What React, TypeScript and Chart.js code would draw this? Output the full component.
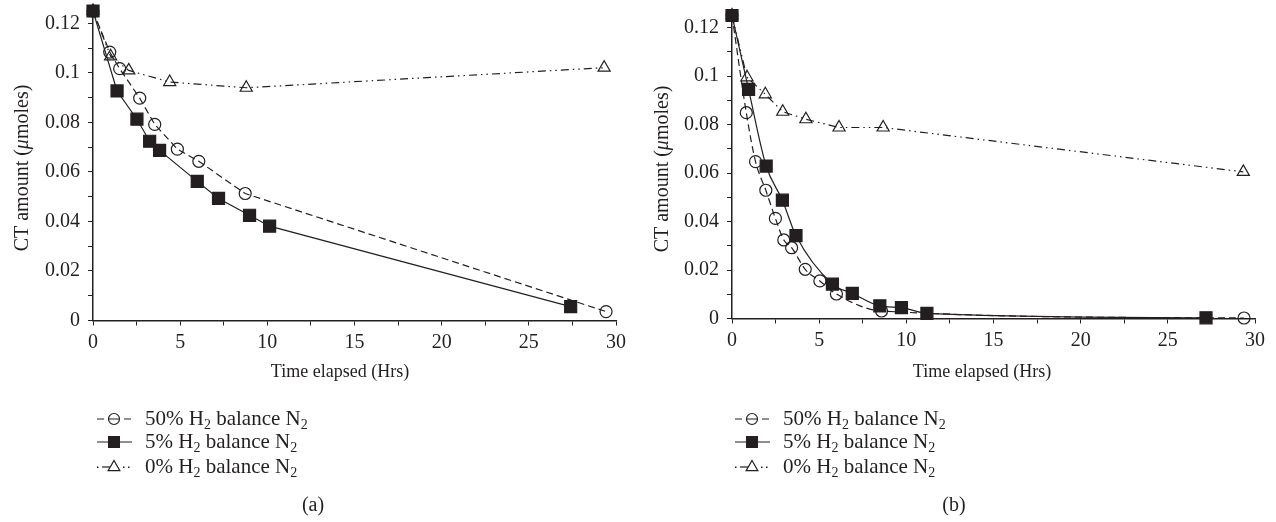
import React, { useEffect, useRef } from 'react';
import { Chart, registerables } from 'chart.js';

Chart.register(...registerables);

const FONT = '"Liberation Serif", "Times New Roman", serif';
const INK = '#231f20';

// ---------- Panel (a) ----------
const timeA50 = [0, 0.96, 1.53, 2.68, 3.54, 4.84, 6.07, 8.73, 29.43];
const ctA50 = [0.125, 0.1084, 0.1017, 0.0898, 0.0792, 0.0692, 0.0643, 0.0513, 0.0036];
const timeA5 = [0, 1.38, 2.52, 3.25, 3.82, 5.98, 7.2, 8.98, 10.13, 27.4];
const ctA5 = [0.125, 0.0927, 0.0813, 0.0724, 0.0687, 0.0562, 0.0493, 0.0425, 0.0381, 0.0056];
const timeA0 = [0, 1.01, 2.05, 4.4, 8.79, 29.32];
const ctA0 = [0.125, 0.1067, 0.101, 0.0963, 0.094, 0.1021];

// ---------- Panel (b) ----------
const timeB50 = [0, 0.82, 1.35, 1.94, 2.49, 2.97, 3.42, 4.2, 5.04, 5.99, 8.58, 29.37];
const ctB50 = [0.125, 0.0849, 0.0647, 0.0529, 0.0413, 0.0324, 0.0292, 0.0203, 0.0155, 0.0101, 0.0031, 0.0002];
const timeB5 = [0, 0.95, 1.96, 2.89, 3.67, 5.76, 6.9, 8.48, 9.72, 11.18, 27.19];
const ctB5 = [0.125, 0.0945, 0.0629, 0.0488, 0.0342, 0.0142, 0.0104, 0.0052, 0.0045, 0.0021, 0.0003];
const timeB0 = [0, 0.86, 1.91, 2.91, 4.24, 6.14, 8.67, 29.33];
const ctB0 = [0.125, 0.0995, 0.0925, 0.0853, 0.0822, 0.0788, 0.0788, 0.0605];

// ---------- Text ----------
const seriesLabels = ['50%', '5%', '0%'];
const xTitle = 'Time elapsed (Hrs)';
const yTitleParts = ['CT amount (', 'μ', 'moles)'];
const xMin = 0;
const xMax = 30;
const yMin = 0;
const yMax = 0.125;

const DASH50 = [7, 4];
const DASH0 = [8, 4, 1.5, 4, 1.5, 4];

const TICK_SIZE = 20;
const TITLE_SIZE = 18;
const YTITLE_SIZE = 20;
const LEGEND_SIZE = 21;

type PanelDef = {
  caption: string;
  t50: number[]; c50: number[];
  t5: number[]; c5: number[];
  t0: number[]; c0: number[];
  smooth: boolean;
  area: { left: number; right: number; top: number; bottom: number };
  xTitleX: number; xTitleY: number;
  yTitleX: number; yTitleY: number;
  legendX: number; legendTextX: number;
  captionX: number;
};

const W = 638;
const H = 522;

const panels: PanelDef[] = [
  {
    caption: '(a)', t50: timeA50, c50: ctA50, t5: timeA5, c5: ctA5, t0: timeA0, c0: ctA0,
    smooth: false,
    area: { left: 93, right: 616, top: 11, bottom: 320.5 },
    xTitleX: 340, xTitleY: 377, yTitleX: 28, yTitleY: 168,
    legendX: 97, legendTextX: 145, captionX: 313,
  },
  {
    caption: '(b)', t50: timeB50, c50: ctB50, t5: timeB5, c5: ctB5, t0: timeB0, c0: ctB0,
    smooth: true,
    area: { left: 94, right: 617, top: 15.5, bottom: 318.5 },
    xTitleX: 344, xTitleY: 377, yTitleX: 30, yTitleY: 169,
    legendX: 97, legendTextX: 145, captionX: 316,
  },
];

const pts = (xs: number[], ys: number[]) => xs.map((x, i) => ({ x, y: ys[i] }));

function drawSubText(ctx: CanvasRenderingContext2D, x: number, y: number, parts: { t: string; sub?: boolean }[], size: number) {
  let cx = x;
  for (const p of parts) {
    ctx.font = `${p.sub ? Math.round(size * 0.68) : size}px ${FONT}`;
    ctx.fillText(p.t, cx, p.sub ? y + size * 0.2 : y);
    cx += ctx.measureText(p.t).width;
  }
}

function makeDecorPlugin(p: PanelDef) {
  return {
    id: 'decor',
    afterDraw(chart: any) {
      const ctx: CanvasRenderingContext2D = chart.ctx;
      ctx.save();
      ctx.fillStyle = INK;
      ctx.strokeStyle = INK;
      // x title
      ctx.font = `${TITLE_SIZE}px ${FONT}`;
      ctx.textAlign = 'center';
      ctx.textBaseline = 'alphabetic';
      ctx.fillText(xTitle, p.xTitleX, p.xTitleY);
      // y title, rotated, italic mu
      ctx.save();
      ctx.translate(p.yTitleX, p.yTitleY);
      ctx.rotate(-Math.PI / 2);
      ctx.textAlign = 'left';
      const fonts = [`${YTITLE_SIZE}px ${FONT}`, `italic ${YTITLE_SIZE}px ${FONT}`, `${YTITLE_SIZE}px ${FONT}`];
      let total = 0;
      yTitleParts.forEach((t, i) => { ctx.font = fonts[i]; total += ctx.measureText(t).width; });
      let cx = -total / 2;
      yTitleParts.forEach((t, i) => { ctx.font = fonts[i]; ctx.fillText(t, cx, 0); cx += ctx.measureText(t).width; });
      ctx.restore();

      // legend
      const rows = [419, 442, 467];
      const lx = p.legendX;
      ctx.lineWidth = 1.2;
      rows.forEach((ry, i) => {
        const mx = lx + 17;
        ctx.beginPath();
        ctx.setLineDash([]);
        if (i === 0) {
          ctx.moveTo(lx, ry); ctx.lineTo(lx + 7, ry);
          ctx.moveTo(mx - 5, ry); ctx.lineTo(mx + 5, ry);
          ctx.moveTo(lx + 27, ry); ctx.lineTo(lx + 34, ry);
          ctx.stroke();
          ctx.beginPath();
          ctx.arc(mx, ry, 5.5, 0, Math.PI * 2);
          ctx.stroke();
        } else if (i === 1) {
          ctx.moveTo(lx, ry); ctx.lineTo(lx + 35, ry);
          ctx.stroke();
          ctx.fillRect(mx - 6, ry - 6, 12, 12);
        } else {
          ctx.fillRect(lx, ry - 0.5, 1.5, 1.5);
          ctx.moveTo(lx + 5, ry); ctx.lineTo(lx + 13, ry);
          ctx.stroke();
          ctx.fillRect(lx + 26, ry - 0.5, 1.5, 1.5);
          ctx.fillRect(lx + 31, ry - 0.5, 1.5, 1.5);
          ctx.beginPath();
          const r = 6.5;
          ctx.moveTo(mx, ry - r);
          ctx.lineTo(mx + r * 0.9, ry + r * 0.55);
          ctx.lineTo(mx - r * 0.9, ry + r * 0.55);
          ctx.closePath();
          ctx.stroke();
        }
        ctx.textAlign = 'left';
        ctx.textBaseline = 'alphabetic';
        drawSubText(ctx, p.legendTextX, ry + 6, [
          { t: `${seriesLabels[i]} H` }, { t: '2', sub: true }, { t: ' balance N' }, { t: '2', sub: true },
        ], LEGEND_SIZE);
      });

      // caption
      ctx.font = `${TICK_SIZE}px ${FONT}`;
      ctx.textAlign = 'center';
      ctx.textBaseline = 'alphabetic';
      ctx.fillText(p.caption, p.captionX, 511);
      ctx.restore();
    },
  };
}

function Panel({ def }: { def: PanelDef }) {
  const ref = useRef<HTMLCanvasElement>(null);
  useEffect(() => {
    const canvas = ref.current!;
    const a = def.area;
    const common = {
      borderColor: INK,
      pointBorderColor: INK,
      borderWidth: 1.2,
      pointBorderWidth: 1.2,
      clip: false as any,
    };
    const chart = new Chart(canvas, {
      type: 'line',
      data: {
        datasets: [
          {
            ...common,
            label: '50%',
            data: pts(def.t50, def.c50),
            borderDash: DASH50,
            pointStyle: 'circle',
            pointRadius: 6,
            pointBackgroundColor: 'rgba(0,0,0,0)',
            cubicInterpolationMode: def.smooth ? 'monotone' : 'default',
            tension: 0,
          },
          {
            ...common,
            label: '5%',
            data: pts(def.t5, def.c5),
            pointStyle: 'rect',
            pointRadius: 8.5,
            pointBackgroundColor: INK,
            cubicInterpolationMode: def.smooth ? 'monotone' : 'default',
            tension: 0,
          },
          {
            ...common,
            label: '0%',
            data: pts(def.t0, def.c0),
            borderDash: DASH0,
            pointStyle: 'triangle',
            pointRadius: 7,
            pointBackgroundColor: 'rgba(0,0,0,0)',
            tension: 0,
          },
        ],
      },
      options: {
        responsive: false,
        animation: false,
        devicePixelRatio: 1,
        layout: { padding: { top: a.top, right: W - a.right, left: 0, bottom: 0 } },
        plugins: { legend: { display: false }, tooltip: { enabled: false } },
        scales: {
          x: {
            type: 'linear',
            min: xMin,
            max: xMax,
            afterFit: (s: any) => {
              s.height = H - a.bottom;
              s.paddingLeft = 0; s.paddingRight = 0; s.paddingTop = 0; s.paddingBottom = 0;
            },
            ticks: {
              stepSize: 2.5,
              autoSkip: false,
              maxRotation: 0,
              includeBounds: false,
              color: INK,
              padding: 5,
              font: { family: FONT, size: TICK_SIZE },
              callback: (v: any) => (Math.round(v * 10) % 50 === 0 ? String(v) : ''),
            },
            grid: { drawOnChartArea: false, drawTicks: true, tickLength: 5, color: INK, lineWidth: 1 },
            border: { display: true, color: INK, width: 1.5 },
          },
          y: {
            type: 'linear',
            min: yMin,
            max: yMax,
            afterFit: (s: any) => {
              s.width = a.left;
              s.paddingLeft = 0; s.paddingRight = 0; s.paddingTop = 0; s.paddingBottom = 0;
            },
            ticks: {
              stepSize: 0.01,
              autoSkip: false,
              includeBounds: false,
              color: INK,
              padding: 8,
              font: { family: FONT, size: TICK_SIZE },
              callback: (v: any) => {
                const k = Math.round(v * 100);
                return k % 2 === 0 ? String(k / 100) : '';
              },
            },
            grid: { drawOnChartArea: false, drawTicks: true, tickLength: 5, color: INK, lineWidth: 1 },
            border: { display: true, color: INK, width: 1.5 },
          },
        },
      },
      plugins: [makeDecorPlugin(def)],
    } as any);
    return () => chart.destroy();
  }, [def]);
  return <canvas ref={ref} width={W} height={H} style={{ width: W, height: H, display: 'block' }} />;
}

export default function App() {
  return (
    <div style={{ position: 'fixed', left: 0, top: 0, width: 1276, height: 522, background: '#fff', display: 'flex' }}>
      {panels.map((p) => (
        <Panel key={p.caption} def={p} />
      ))}
    </div>
  );
}
